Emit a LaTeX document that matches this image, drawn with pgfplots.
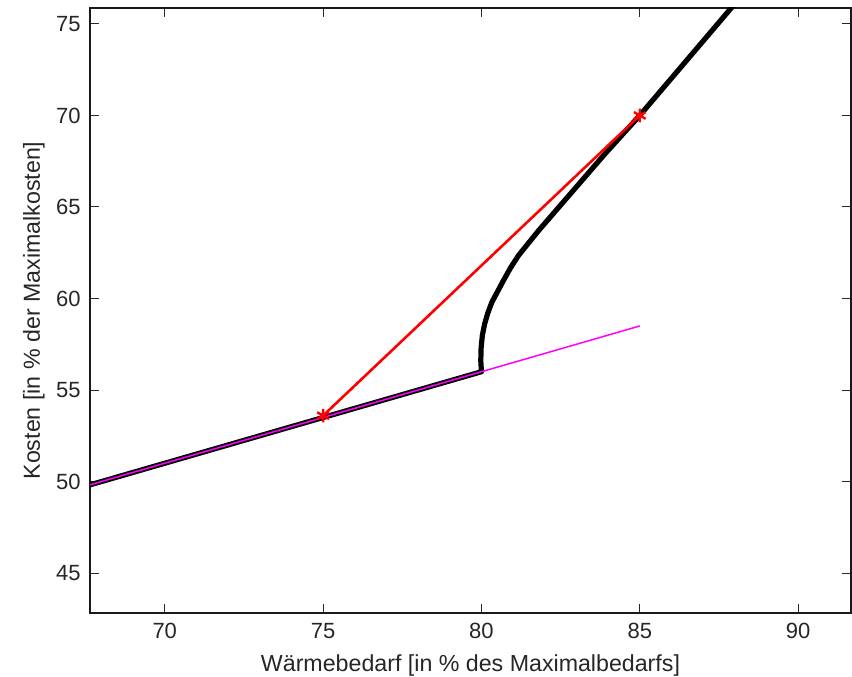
\documentclass[border=0pt]{standalone}
\usepackage{fontspec}
\setmainfont{Liberation Sans}
\usepackage{pgfplots}
\pgfplotsset{compat=1.18}
\definecolor{mlmagenta}{rgb}{1,0,1}
\definecolor{mlred}{rgb}{1,0,0}

% heat demand vs. cost curve
\begin{document}
\begin{tikzpicture}
\begin{axis}[
  scale only axis,
  width=380.5pt, height=302.5pt,
  xmin=67.64, xmax=91.67,
  ymin=42.82, ymax=75.87,
  xtick={70,75,80,85,90},
  ytick={45,50,55,60,65,70,75},
  tick align=inside,
  major tick length=4.3pt,
  every tick/.style={line width=0.5pt, black!85},
  axis line style={line width=0.8pt, black!90},
  /pgf/number format/assume math mode=true,
  tick label style={font=\fontsize{11}{13}\selectfont, text=black!85},
  xticklabel style={inner sep=0pt, anchor=north, yshift=-5pt},
  yticklabel style={inner sep=0pt, anchor=east, xshift=-4.5pt},
  every axis x label/.style={at={(axis description cs:0.5,-0.0959)}, anchor=base,
    font=\fontsize{11.6}{14}\selectfont, text=black!85},
  every axis y label/.style={at={(axis description cs:-0.0657,0.5)}, rotate=90, anchor=base,
    font=\fontsize{11.6}{14}\selectfont, text=black!85},
  xlabel={Wärmebedarf [in \% des Maximalbedarfs]},
  ylabel={Kosten [in \% der Maximalkosten]},
]
  \coordinate (ll) at (rel axis cs:0,0);
  \coordinate (ur) at (rel axis cs:1,1);

  % actual cost curve
  \addplot[black, line width=2.6pt, line join=round, line cap=round] coordinates {
    (67.5,49.75) (80.0,56.0) (79.98,56.6) (79.99,57.3) (80.03,58.0)
    (80.1,58.6) (80.2,59.2) (80.33,59.8) (80.5,60.35) (80.7,61.0)
    (80.92,61.68) (81.17,62.35) (81.45,62.95) (81.8,63.7) (82.2,64.5)
    (82.7,65.5) (83.3,66.7) (83.9,67.9) (85.0,70.0) (88.1,76.3)
  };
  % linear continuation
  \addplot[mlmagenta, line width=0.75pt] coordinates {
    (67.5,49.75) (85.0,58.5)
  };
  % secant between the two operating points
  \addplot[mlred, line width=1.3pt, mark=asterisk, mark size=3.4pt,
           mark options={line width=1.2pt}] coordinates {
    (75.0,53.6) (85.0,70.0)
  };
\end{axis}
\pgfresetboundingbox
\path (ll) ++(-45pt,-31.5pt) coordinate (bl);
\path (ur) ++(0.5pt,4pt) coordinate (tr);
\path[use as bounding box] (bl) rectangle (tr);
\end{tikzpicture}
\end{document}
